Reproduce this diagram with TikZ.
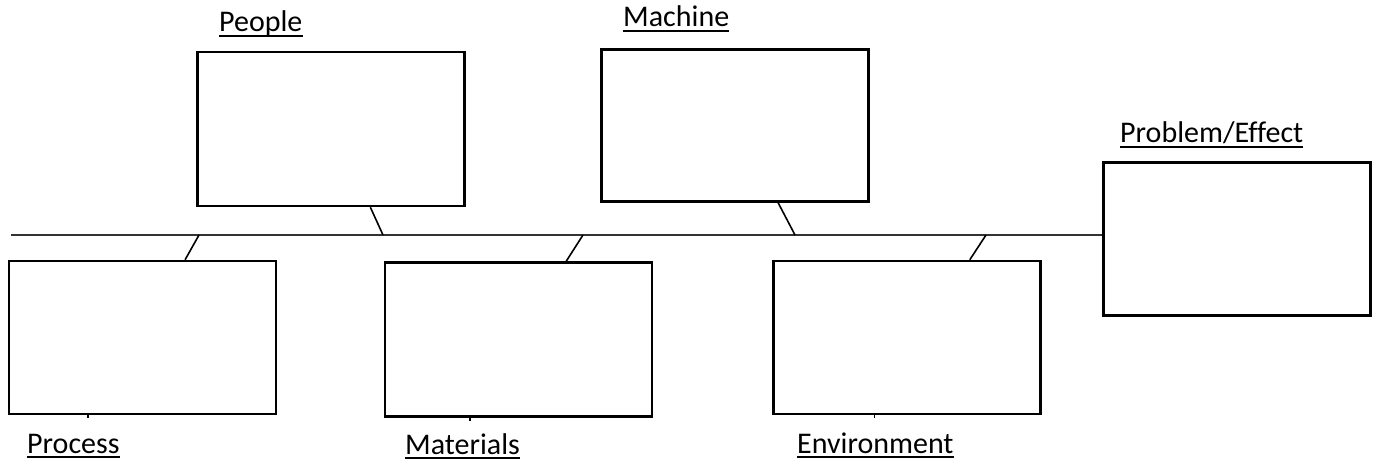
\documentclass[tikz,border=0pt]{standalone}
\usepackage{fontspec}
\setmainfont{Carlito}[Ligatures=NoCommon]
\usetikzlibrary{calc}
\begin{document}
\begin{tikzpicture}[x=1pt,y=-1pt,
  box/.style={draw=black,line width=2.5pt,inner sep=0pt,minimum width=#1},
  box/.default=267pt,
  conn/.style={draw=black,line width=1.6pt},
  spine/.style={draw=black!80,line width=1.6pt},
  lbl/.style={inner sep=0pt,anchor=base west,font=\fontsize{30}{35}\selectfont},
  ul/.style={draw=black,line width=2pt}]
\useasboundingbox (0,0) rectangle (1375,462);
% boxes
\node[box,minimum height=153pt] (process) at (142.5,337.5) {};
\node[box,minimum height=154pt] (people) at (331,129) {};
\node[box,minimum height=154pt] (materials) at (518.5,339.5) {};
\node[box,minimum height=152pt] (machine) at (735,125.5) {};
\node[box,minimum height=153pt] (environment) at (907,337.5) {};
\node[box,minimum height=153pt] (effect) at (1237,239) {};
% spine
\coordinate (spinestart) at (11,235);
\draw[spine] (spinestart) -- (effect.west |- spinestart);
% branch points on the spine
\coordinate (s1) at (199,235);
\coordinate (s2) at (383,235);
\coordinate (s3) at (583,235);
\coordinate (s4) at (795,235);
\coordinate (s5) at (986,235);
\draw[conn] ($(process.north west)!0.658!(process.north east)$) -- (s1);
\draw[conn] ($(people.south west)!0.646!(people.south east)$) -- (s2);
\draw[conn] ($(materials.north west)!0.677!(materials.north east)$) -- (s3);
\draw[conn] ($(machine.south west)!0.66!(machine.south east)$) -- (s4);
\draw[conn] ($(environment.north west)!0.733!(environment.north east)$) -- (s5);
% tiny stubs under the lower boxes
\draw[conn] ($(process.south west)!0.297!(process.south east)$) -- ++(0,3);
\draw[conn] ($(materials.south west)!0.32!(materials.south east)$) -- ++(0,3);
\draw[conn] ($(environment.south west)!0.38!(environment.south east)$) -- ++(0,3);
% labels
\node[lbl] (tpeople) at (219,32) {People};
\node[lbl] (tmachine) at (623,27) {Machine};
\node[lbl] (teffect) at (1120,143) {Problem/Effect};
\node[lbl] (tprocess) at (27,453) {Process};
\node[lbl] (tmaterials) at (405,454) {Materials};
\node[lbl] (tenvironment) at (797,453) {Environment};
\foreach \t in {tpeople,tmachine,teffect,tprocess,tmaterials,tenvironment}{
  \draw[ul] ([yshift=-4pt]\t.base west) -- ([yshift=-4pt]\t.base east);
}
\end{tikzpicture}
\end{document}
